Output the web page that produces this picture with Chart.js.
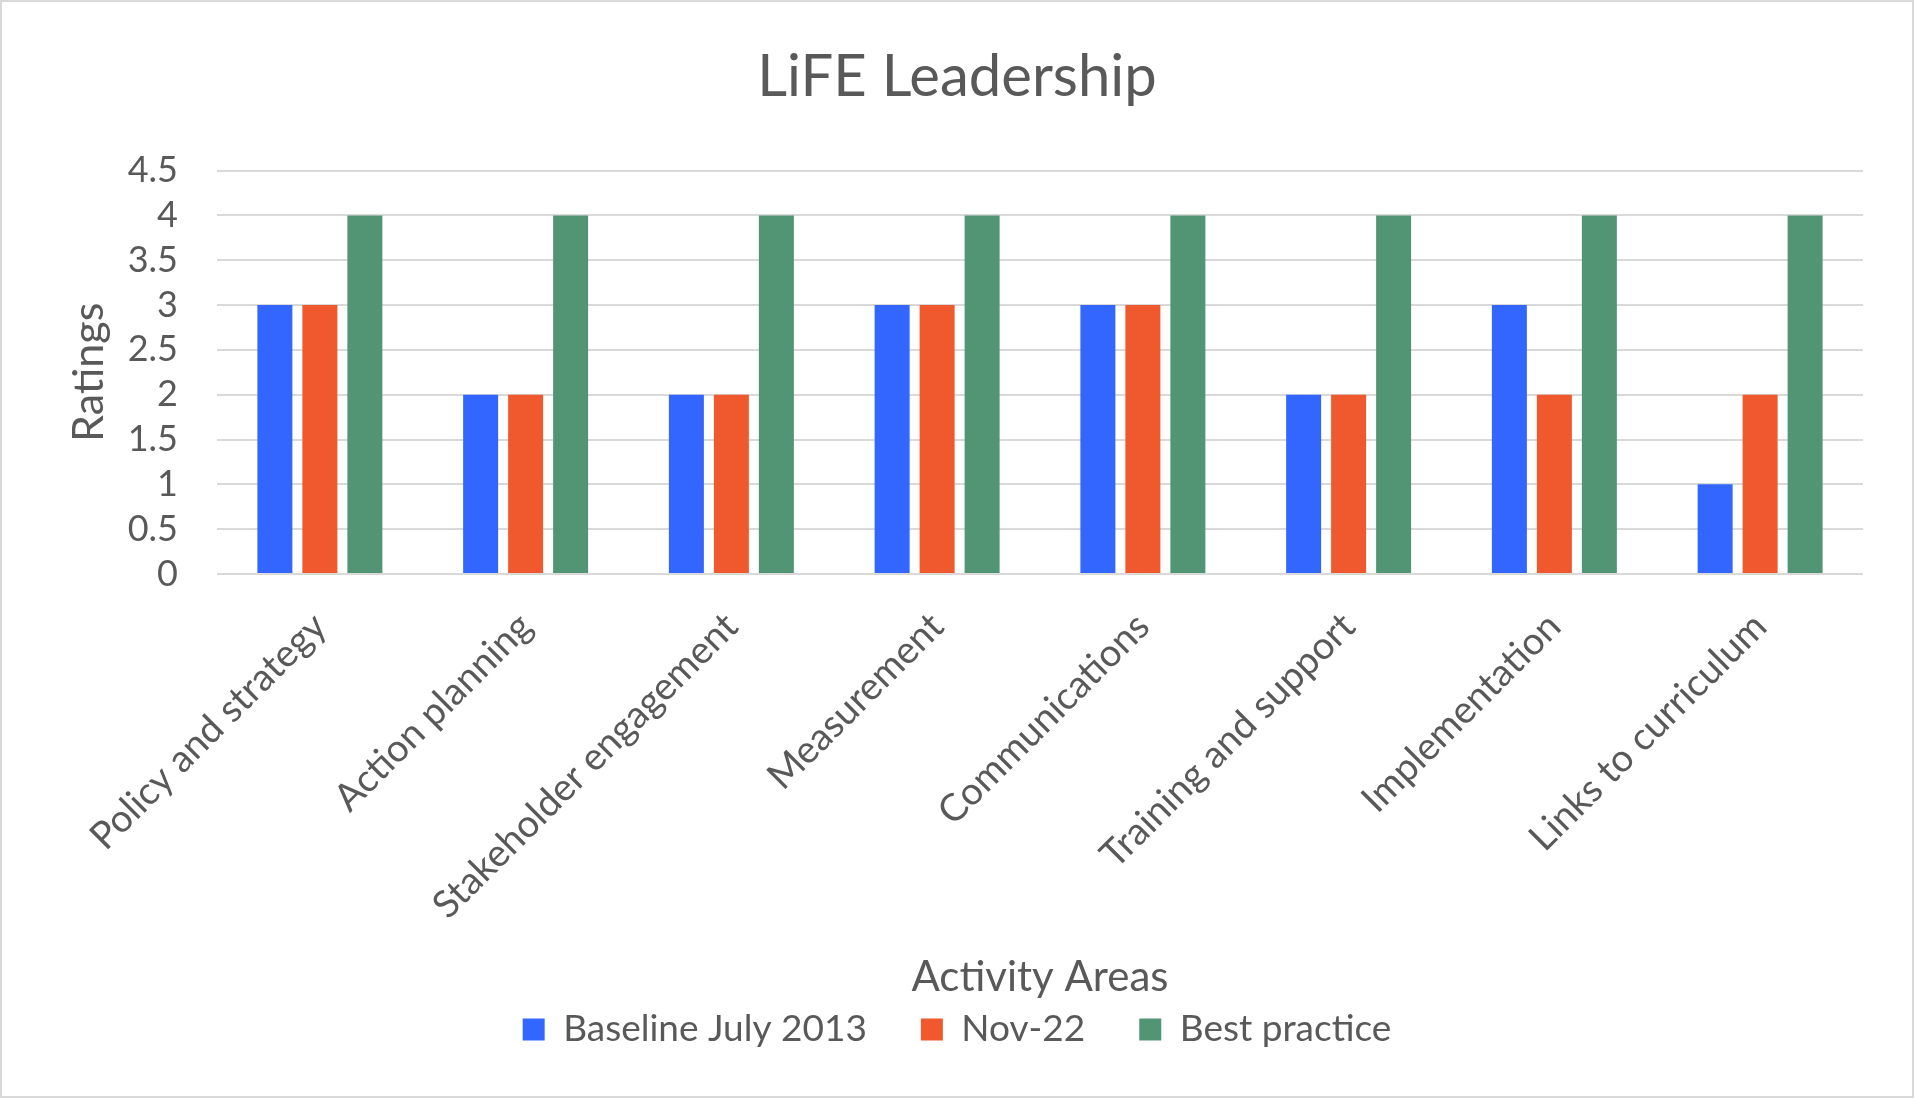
<!DOCTYPE html>
<html>
<head>
<meta charset="utf-8">
<script src="https://cdn.jsdelivr.net/npm/chart.js@4"></script>
<style>
html,body{margin:0;padding:0;background:#fff;}
#wrap{width:1914px;height:1098px;position:relative;}
</style>
</head>
<body>
<div id="wrap"><canvas id="c" width="1914" height="1098"></canvas></div>
<script>
const categories = ["Policy and strategy","Action planning","Stakeholder engagement","Measurement","Communications","Training and support","Implementation","Links to curriculum"];
const seriesNames = ["Baseline July 2013","Nov-22","Best practice"];
const baseline = [3,2,2,3,3,2,3,1];
const nov22 = [3,2,2,3,3,2,2,2];
const bestPractice = [4,4,4,4,4,4,4,4];
const yTicks = [0,0.5,1,1.5,2,2.5,3,3.5,4,4.5];

const colors = ["#3366FF","#F0582D","#529574"];
const textColor = "#595959";
const FONT = "Lato, 'Open Sans', sans-serif";

const borderPlugin = {
  id: 'outerBorder',
  afterDraw(chart){
    const ctx = chart.ctx;
    ctx.save();
    ctx.strokeStyle = '#D9D9D9';
    ctx.lineWidth = 2;
    ctx.strokeRect(1, 1, chart.width - 2, chart.height - 2);
    ctx.restore();
  }
};

new Chart(document.getElementById('c'), {
  type: 'bar',
  data: {
    labels: categories,
    datasets: [
      {label: seriesNames[0], data: baseline, backgroundColor: colors[0]},
      {label: seriesNames[1], data: nov22, backgroundColor: colors[1]},
      {label: seriesNames[2], data: bestPractice, backgroundColor: colors[2]}
    ]
  },
  options: {
    responsive: false,
    animation: false,
    devicePixelRatio: 1,
    datasets: { bar: { categoryPercentage: 0.656, barPercentage: 0.778 } },
    layout: { padding: { top: 0, left: 51, right: 51, bottom: 40 } },
    plugins: {
      title: {
        display: true,
        text: 'LiFE Leadership',
        color: textColor,
        font: { family: FONT, size: 58, weight: 'normal', lineHeight: 1.2 },
        padding: { top: 42, bottom: 59 }
      },
      legend: {
        position: 'bottom',
        labels: {
          color: textColor,
          boxWidth: 22,
          boxHeight: 22,
          padding: 54,
          font: { family: FONT, size: 37 }
        }
      },
      tooltip: { enabled: false }
    },
    scales: {
      x: {
        grid: { display: false },
        border: { display: false },
        ticks: {
          color: textColor,
          font: { family: FONT, size: 38 },
          minRotation: 45,
          maxRotation: 45,
          autoSkip: false,
          padding: 22
        },
        title: {
          display: true,
          text: 'Activity Areas',
          color: textColor,
          font: { family: FONT, size: 42, lineHeight: 1.2 },
          padding: { top: 0, bottom: -46 }
        },
        afterFit(scale){ scale.height = 383; }
      },
      y: {
        min: 0,
        max: 4.5,
        afterBuildTicks(scale){ scale.ticks = yTicks.map(v => ({value: v})); },
        grid: { color: '#D9D9D9', lineWidth: 2, drawTicks: false },
        border: { display: false },
        ticks: {
          color: textColor,
          font: { family: FONT, size: 36 },
          padding: 39,
          autoSkip: false,
          callback: (v) => String(v)
        },
        title: {
          display: true,
          text: 'Ratings',
          color: textColor,
          font: { family: FONT, size: 43, lineHeight: 1.2 },
          padding: { top: 12, bottom: 0 }
        },
        afterFit(scale){ scale.width = 166; }
      }
    }
  },
  plugins: [borderPlugin]
});
</script>
</body>
</html>
